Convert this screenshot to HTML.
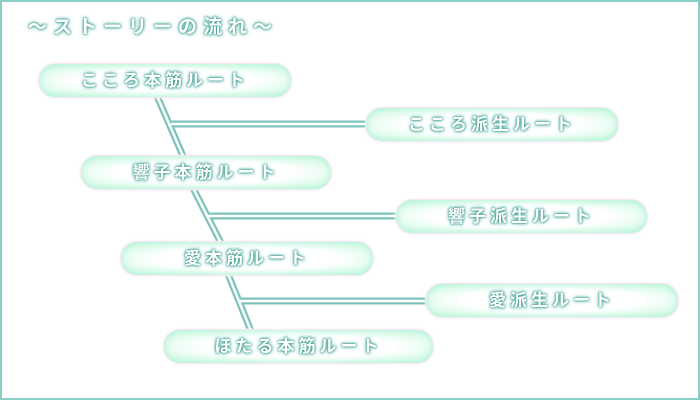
<!DOCTYPE html>
<html><head><meta charset="utf-8"><style>
html,body{margin:0;padding:0}
body{width:700px;height:400px;position:relative;overflow:hidden;background:#fff;font-family:"Liberation Sans","Noto Sans CJK JP",sans-serif}
.frame{position:absolute;left:0;top:0;width:696px;height:396px;border:2px solid #8ccfc6}
.t{position:absolute;color:#fff;font-size:17px;font-weight:bold;letter-spacing:4px;text-shadow:0 0 1px #3f9c90,0 0 2px #3f9c90,0 0 3px #4aa79b,0 0 5px #7cc9be;white-space:nowrap;line-height:20px}
.p{position:absolute;height:33px;border-radius:17px;background:radial-gradient(ellipse at center,#fff 50%,#c6f8df 100%);box-shadow:0 0 2px #fbe6f3,inset 0 0 8px #a9f2d0;border:1px solid #f6e9f4}
.p .t{position:static;display:block;text-align:center;line-height:33px}
</style></head><body>
<div class="frame"></div>
<div class="t" style="left:28px;top:18px;font-size:19px;letter-spacing:6px">～ストーリーの流れ～</div>
<svg width="700" height="400" style="position:absolute;left:0;top:0">
<g stroke="#7cc4bb" stroke-width="7" fill="none">
<path d="M157 96 L183 156 M171 124 H368"/>
<path d="M193 188 L221 243 M208 216 H398"/>
<path d="M228 274 L251 331 M240 301 H428"/>
</g>
<g stroke="#fff" stroke-width="2.5" fill="none">
<path d="M157 96 L183 156 M171 124 H368"/>
<path d="M193 188 L221 243 M208 216 H398"/>
<path d="M228 274 L251 331 M240 301 H428"/>
</g>
</svg>
<div class="p" style="left:38px;top:63px;width:252px"><span class="t">こころ本筋ルート</span></div>
<div class="p" style="left:365px;top:107px;width:252px"><span class="t">こころ派生ルート</span></div>
<div class="p" style="left:80px;top:155px;width:250px"><span class="t">響子本筋ルート</span></div>
<div class="p" style="left:395px;top:199px;width:251px"><span class="t">響子派生ルート</span></div>
<div class="p" style="left:120px;top:241px;width:252px"><span class="t">愛本筋ルート</span></div>
<div class="p" style="left:425px;top:283px;width:252px"><span class="t">愛派生ルート</span></div>
<div class="p" style="left:163px;top:329px;width:269px"><span class="t">ほたる本筋ルート</span></div>
</body></html>
